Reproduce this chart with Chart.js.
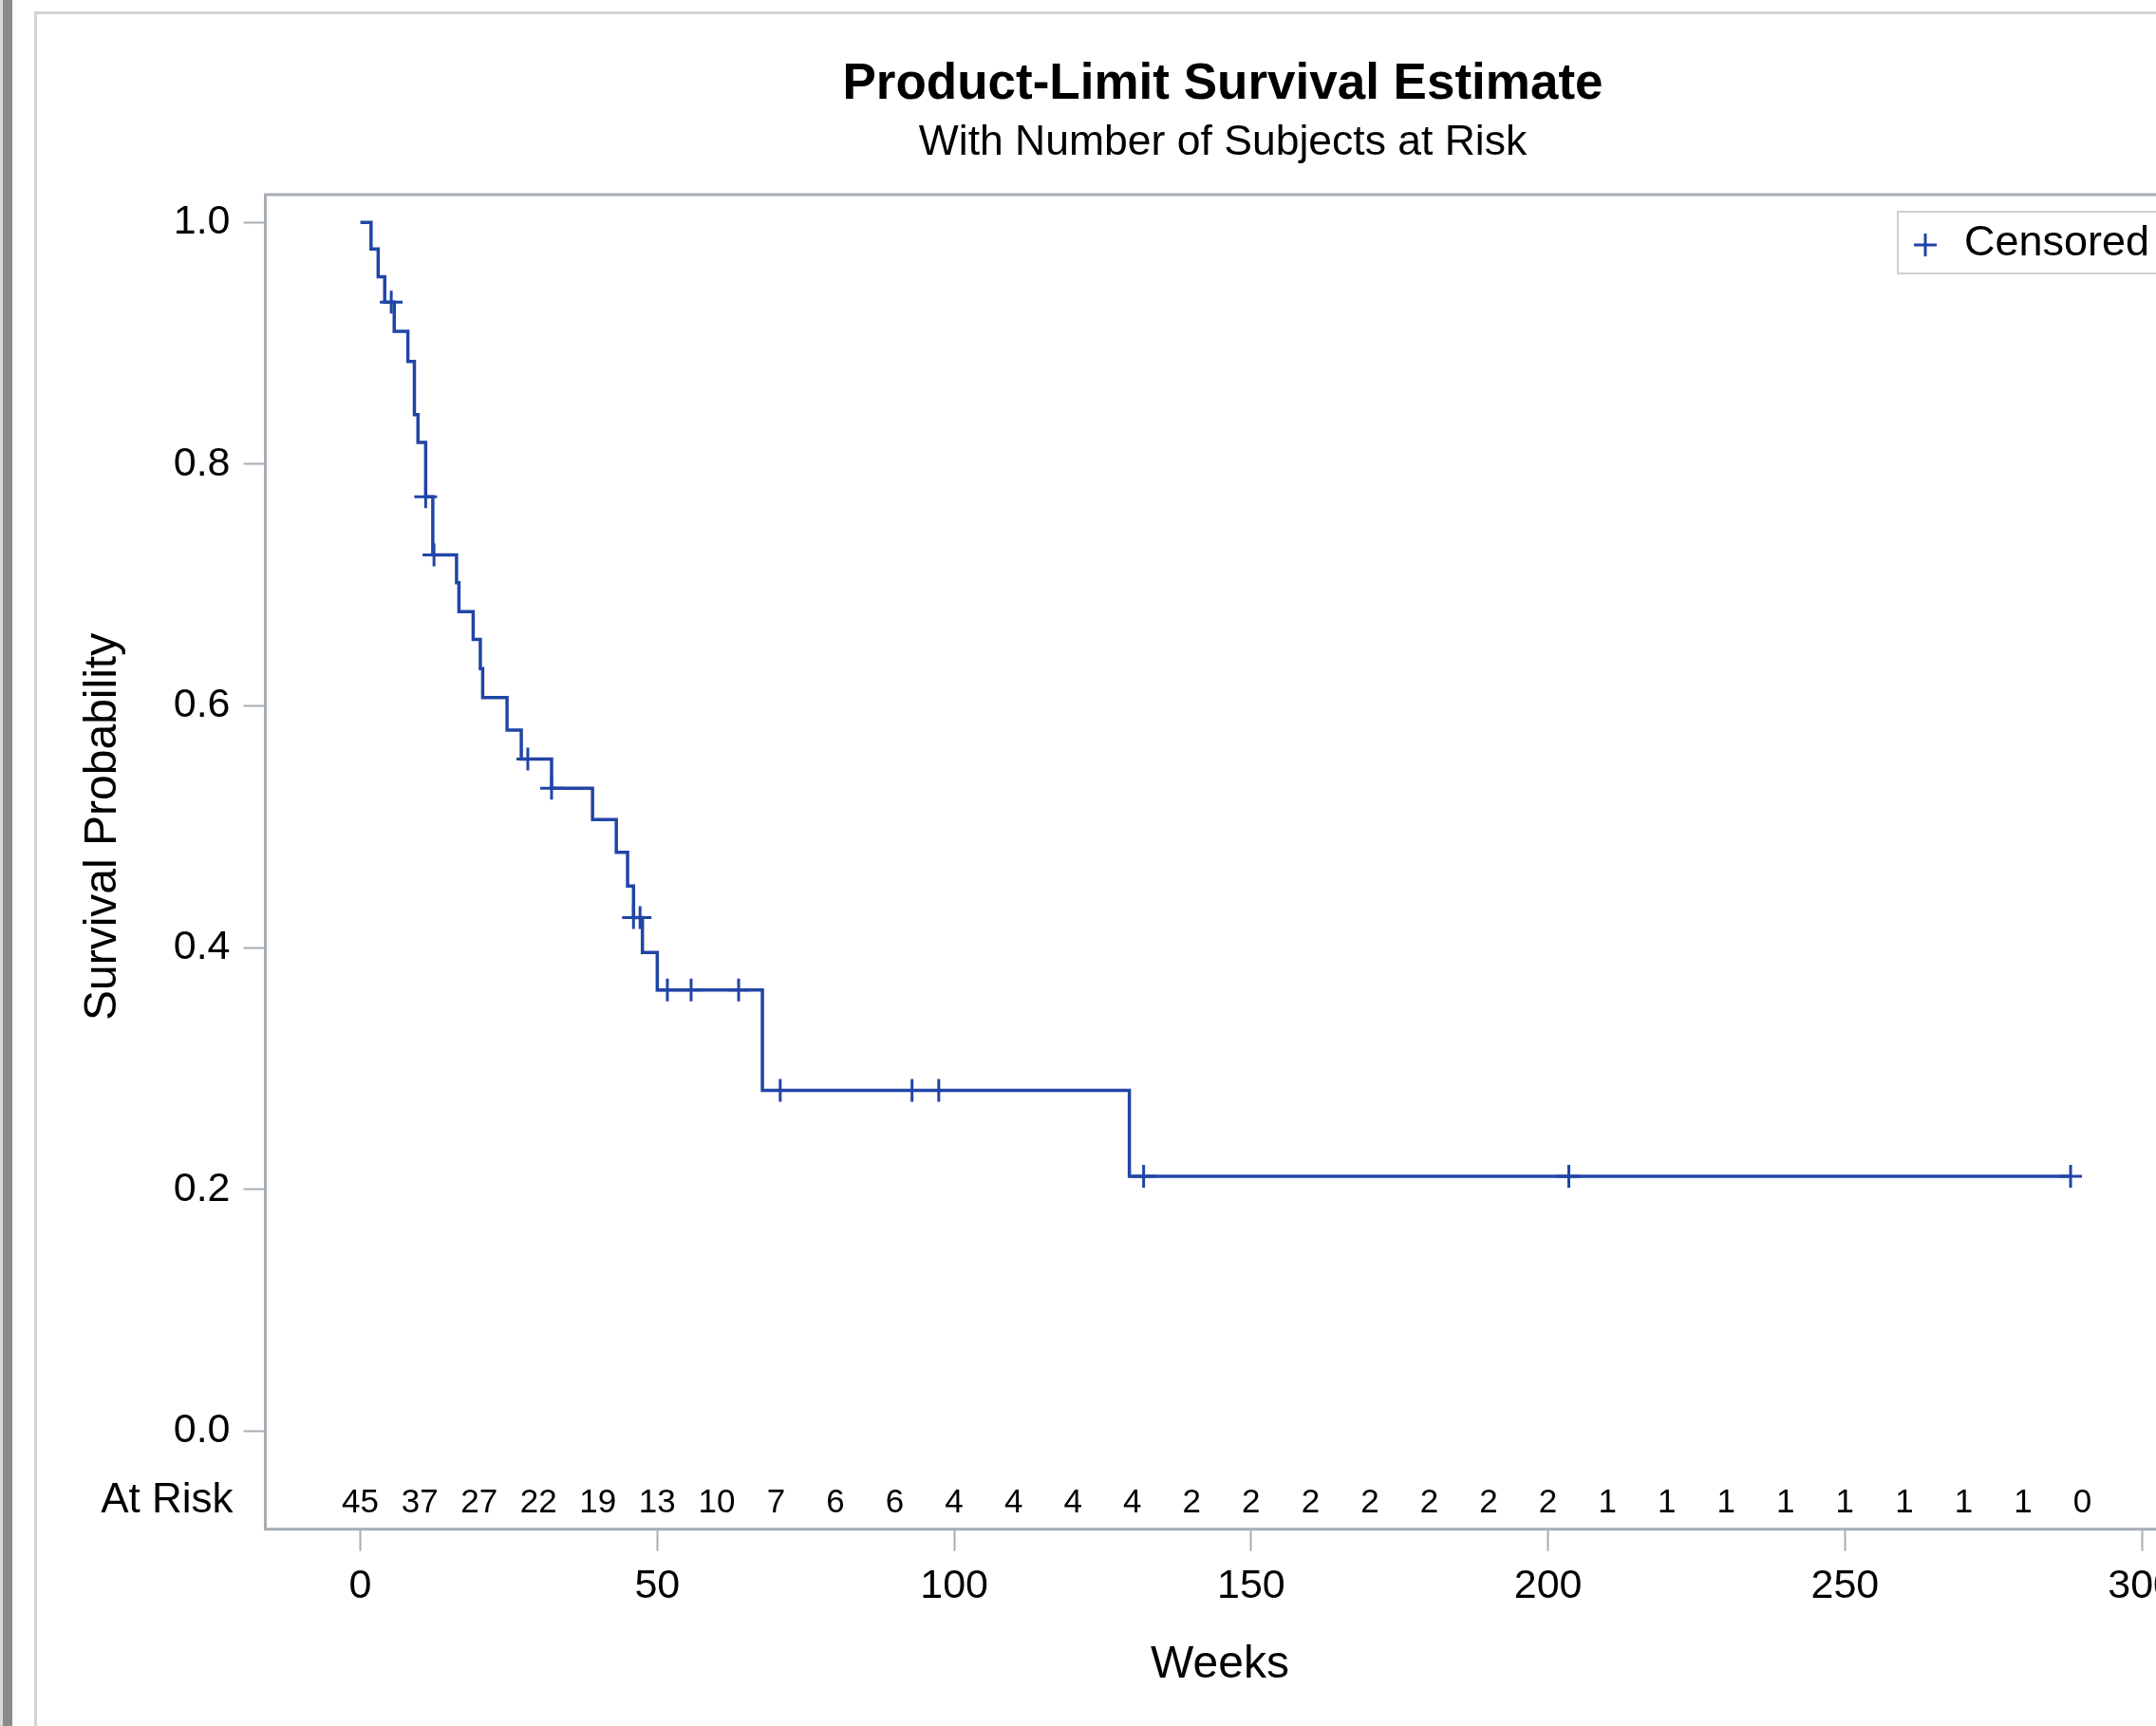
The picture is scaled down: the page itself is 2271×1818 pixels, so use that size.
<!DOCTYPE html>
<html>
<head>
<meta charset="utf-8">
<script src="https://cdn.jsdelivr.net/npm/chart.js@4.4.1/dist/chart.umd.min.js"></script>
<style>
  html, body { margin:0; padding:0; background:#fff; overflow:hidden; width:2271px; height:1818px; }
  #edge  { position:absolute; left:0; top:0; width:3px; height:1818px; background:#d8d8d8; }
  #bar   { position:absolute; left:3px; top:0; width:10px; height:1818px; background:#8a8a8a; }
  #frame { position:absolute; left:36px; top:12px; width:2700px; height:1900px; border:3px solid #d4d4d4; }
  #wrap  { position:absolute; left:0; top:0; width:2576px; height:1818px; }
</style>
</head>
<body>
<div id="edge"></div><div id="bar"></div><div id="frame"></div>
<div id="wrap"><canvas id="km"></canvas></div>
<script>
// Kaplan-Meier steps (weeks, survival after the drop)
const stepWeeks = [0, 1.8, 3.0, 4.1, 5.7, 8.0, 9.1, 9.7, 11.0, 12.2, 16.2, 16.6, 19.0, 20.2, 20.6, 24.7, 27.1, 32.2, 39.1, 43.1, 45.0, 46.0, 47.5, 50.0, 67.7, 129.5, 288.0];
const stepSurv  = [1.000, 0.978, 0.955, 0.934, 0.910, 0.885, 0.841, 0.818, 0.773, 0.725, 0.702, 0.678, 0.655, 0.631, 0.607, 0.580, 0.556, 0.532, 0.506, 0.479, 0.451, 0.425, 0.396, 0.365, 0.282, 0.211, 0.211];

// censored observations
const censorWeeks = [5.2, 11.0, 12.4, 28.2, 32.2, 46.0, 47.1, 51.7, 55.7, 63.7, 70.7, 92.9, 97.4, 131.9, 203.5, 288.0];
const censorSurv  = [0.934, 0.773, 0.725, 0.556, 0.532, 0.425, 0.425, 0.365, 0.365, 0.365, 0.282, 0.282, 0.282, 0.211, 0.211, 0.211];

// number at risk table
const riskWeeks  = [0, 10, 20, 30, 40, 50, 60, 70, 80, 90, 100, 110, 120, 130, 140, 150, 160, 170, 180, 190, 200, 210, 220, 230, 240, 250, 260, 270, 280, 290];
const riskCounts = [45, 37, 27, 22, 19, 13, 10, 7, 6, 6, 4, 4, 4, 4, 2, 2, 2, 2, 2, 2, 2, 1, 1, 1, 1, 1, 1, 1, 1, 0];

const xTicks = [0, 50, 100, 150, 200, 250, 300];
const yTicks = [0, 0.2, 0.4, 0.6, 0.8, 1.0];

const BLUE = '#2145a6';
const AXIS = '#a6adb4';
const FONT = "'Liberation Sans', Arial, sans-serif";

// plot frame (all four sides)
const framePlugin = {
  id: 'frame',
  beforeDatasetsDraw(chart){
    const {ctx, chartArea:a} = chart;
    ctx.save();
    ctx.strokeStyle = AXIS; ctx.lineWidth = 3;
    ctx.strokeRect(a.left, a.top, a.right - a.left, a.bottom - a.top);
    ctx.restore();
  }
};

// "At Risk" row inside the bottom of the frame
const riskPlugin = {
  id: 'atRisk',
  afterDraw(chart){
    const {ctx, chartArea:a, scales:{x}} = chart;
    const y = a.bottom - 27;
    ctx.save();
    ctx.fillStyle = '#000';
    ctx.textBaseline = 'middle';
    ctx.textAlign = 'center';
    ctx.font = '35px ' + FONT;
    riskWeeks.forEach((w, i) => ctx.fillText(String(riskCounts[i]), x.getPixelForValue(w), y));
    ctx.textAlign = 'right';
    ctx.font = '44px ' + FONT;
    ctx.fillText('At Risk', a.left - 34, y - 3);
    ctx.restore();
  }
};

// y axis title, centred on the 0..1 range like SAS does
const yTitlePlugin = {
  id: 'yTitle',
  afterDraw(chart){
    const {ctx, scales:{y}} = chart;
    const cy = (y.getPixelForValue(0) + y.getPixelForValue(1)) / 2;
    ctx.save();
    ctx.translate(109, cy);
    ctx.rotate(-Math.PI / 2);
    ctx.fillStyle = '#000';
    ctx.font = '48px ' + FONT;
    ctx.textAlign = 'center'; ctx.textBaseline = 'middle';
    ctx.fillText('Survival Probability', 0, 0);
    ctx.restore();
  }
};

// boxed legend in the top right corner
const legendPlugin = {
  id: 'censorLegend',
  afterDraw(chart){
    const {ctx, chartArea:a} = chart;
    const left = a.right - 291.5, top = a.top + 18, h = 65;
    ctx.save();
    ctx.font = '45px ' + FONT;
    const w = 70 + ctx.measureText('Censored').width + 30;
    ctx.fillStyle = '#fff'; ctx.fillRect(left, top, w, h);
    ctx.strokeStyle = '#cfcfcf'; ctx.lineWidth = 2; ctx.strokeRect(left, top, w, h);
    const mx = left + 29, my = top + 35;
    ctx.strokeStyle = BLUE; ctx.lineWidth = 3;
    ctx.beginPath(); ctx.moveTo(mx - 12, my); ctx.lineTo(mx + 12, my); ctx.moveTo(mx, my - 12); ctx.lineTo(mx, my + 12); ctx.stroke();
    ctx.fillStyle = '#000'; ctx.textBaseline = 'middle'; ctx.textAlign = 'left';
    ctx.fillText('Censored', left + 70, top + 34);
    ctx.restore();
  }
};

new Chart(document.getElementById('km'), {
  type: 'line',
  data: {
    datasets: [
      {
        label: 'Survival',
        data: stepWeeks.map((w, i) => ({x: w, y: stepSurv[i]})),
        stepped: 'before',
        borderColor: BLUE, borderWidth: 3.5,
        pointRadius: 0, fill: false
      },
      {
        label: 'Censored',
        data: censorWeeks.map((w, i) => ({x: w, y: censorSurv[i]})),
        showLine: false,
        pointStyle: 'cross', pointRadius: 12, pointBorderWidth: 3,
        borderColor: BLUE, pointBorderColor: BLUE
      }
    ]
  },
  options: {
    responsive: true,
    maintainAspectRatio: false,
    devicePixelRatio: 1,
    animation: false,
    layout: { padding: 0 },
    plugins: {
      legend: { display: false },
      tooltip: { enabled: false },
      title: {
        display: true, text: 'Product-Limit Survival Estimate', color: '#000',
        font: { family: FONT, size: 53, weight: 'bold' },
        padding: { top: 58, bottom: 2 }
      },
      subtitle: {
        display: true, text: 'With Number of Subjects at Risk', color: '#000',
        font: { family: FONT, size: 44.5 },
        padding: { top: 0, bottom: 28 }
      }
    },
    scales: {
      x: {
        type: 'linear', min: -16, max: 305.5,
        afterBuildTicks: s => { s.ticks = xTicks.map(v => ({value: v})); },
        afterFit: s => { s.height = 207.3; },
        border: { display: false },
        grid: { drawOnChartArea: false, drawTicks: true, tickLength: 23, color: AXIS, tickWidth: 2 },
        ticks: { color: '#000', font: { family: FONT, size: 43 }, padding: 12, autoSkip: false, maxRotation: 0 },
        title: { display: true, text: 'Weeks', color: '#000', font: { family: FONT, size: 48 }, padding: { top: 0, bottom: 35 } }
      },
      y: {
        type: 'linear', min: -0.081, max: 1.023,
        afterBuildTicks: s => { s.ticks = yTicks.map(v => ({value: v})); },
        afterFit: s => { s.width = 279.5; },
        border: { display: false },
        grid: { drawOnChartArea: false, drawTicks: true, tickLength: 23, color: AXIS, tickWidth: 2 },
        ticks: { color: '#000', font: { family: FONT, size: 43 }, padding: 14, autoSkip: false, callback: v => v.toFixed(1) }
      },
      // empty right-hand gutter: the plot runs past the window edge, titles stay centred on the page
      yRight: {
        type: 'linear', position: 'right', min: 0, max: 1,
        afterFit: s => { s.width = 285.5; },
        border: { display: false }, grid: { display: false }, ticks: { display: false }
      }
    }
  },
  plugins: [framePlugin, riskPlugin, yTitlePlugin, legendPlugin]
});
</script>
</body>
</html>
